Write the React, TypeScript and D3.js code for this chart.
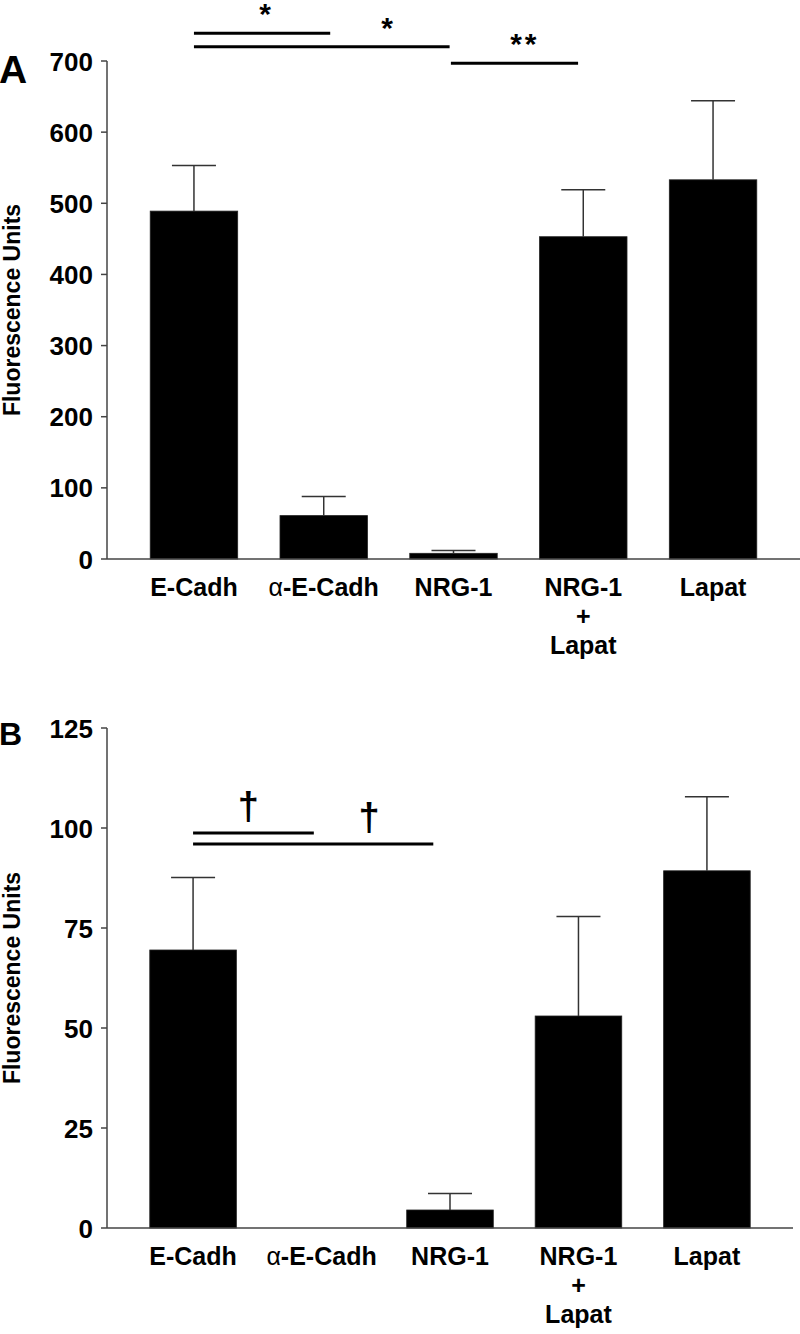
import React from "react";
import * as d3 from "d3";

// ---------- data ----------
const categories = ["E-Cadh", "α-E-Cadh", "NRG-1", "NRG-1|+|Lapat", "Lapat"];

const valuesA = [489, 61, 8, 453, 533];
const errorsA = [553, 88, 12, 519, 644];
const ticksA = [0, 100, 200, 300, 400, 500, 600, 700];

const valuesB = [69.5, 0, 4.5, 53, 89.3];
const errorsB = [87.6, 0, 8.6, 77.9, 107.8];
const ticksB = [0, 25, 50, 75, 100, 125];

// significance brackets: [from index, to index, y value, label, label index]
const sigA: [number, number, number, string, number][] = [
  [0, 1.05, 739, "*", 0.56],
  [0, 1.97, 720, "*", 1.5],
  [1.98, 2.96, 697, "**", 2.55],
];
const sigB: [number, number, number, string, number][] = [
  [0, 0.94, 98.75, "†", 0.43],
  [0, 1.87, 96, "†", 1.37],
];

const FONT = "'Liberation Sans', Arial, Helvetica, sans-serif";

type PanelProps = {
  letter: string;
  letterSize: number;
  letterBaseline: number;
  values: number[];
  errors: number[];
  ticks: number[];
  yTop: number;
  yZero: number;
  xRight: number;
  sig: [number, number, number, string, number][];
  sigIsDagger: boolean;
};

function Panel(p: PanelProps) {
  const xLeft = 107;
  const y = d3
    .scaleLinear()
    .domain([0, p.ticks[p.ticks.length - 1]])
    .range([p.yZero, p.yTop]);
  const x = d3
    .scaleBand<string>()
    .domain(categories)
    .range([xLeft, p.xRight])
    .paddingInner(0.326)
    .paddingOuter(0.333);
  const bw = x.bandwidth();
  const step = x.step();
  const c0 = (x(categories[0]) as number) + bw / 2;
  const idxX = (i: number) => c0 + i * step;

  return (
    <g>
      <text
        x={-1}
        y={p.letterBaseline}
        fontFamily={FONT}
        fontWeight="bold"
        fontSize={p.letterSize}
      >
        {p.letter}
      </text>
      {/* y axis label */}
      <text
        transform={`translate(20,${(p.yZero + p.yTop) / 2}) rotate(-90)`}
        textAnchor="middle"
        fontFamily={FONT}
        fontWeight="bold"
        fontSize={23}
      >
        Fluorescence Units
      </text>
      {/* bars */}
      {categories.map((c, i) =>
        p.values[i] > 0 ? (
          <rect
            key={c}
            x={x(c)}
            y={y(p.values[i])}
            width={bw}
            height={p.yZero - y(p.values[i])}
            fill="#000"
            stroke="#222"
            strokeWidth={0.8}
          />
        ) : null
      )}
      {/* error bars */}
      {categories.map((c, i) =>
        p.errors[i] > p.values[i] ? (
          <g key={"e" + c} stroke="#333" strokeWidth={1.5}>
            <line
              x1={(x(c) as number) + bw / 2}
              x2={(x(c) as number) + bw / 2}
              y1={y(p.values[i])}
              y2={y(p.errors[i])}
            />
            <line
              x1={(x(c) as number) + bw / 2 - 22}
              x2={(x(c) as number) + bw / 2 + 22}
              y1={y(p.errors[i])}
              y2={y(p.errors[i])}
            />
          </g>
        ) : null
      )}
      {/* axes */}
      <line x1={xLeft} x2={xLeft} y1={y(p.ticks[p.ticks.length - 1])} y2={p.yZero} stroke="#444" strokeWidth={1.5} />
      <line x1={xLeft} x2={p.xRight} y1={p.yZero} y2={p.yZero} stroke="#444" strokeWidth={1.5} />
      {p.ticks.map((t) => (
        <g key={"t" + t}>
          <line x1={xLeft - 6} x2={xLeft} y1={y(t)} y2={y(t)} stroke="#444" strokeWidth={1.5} />
          <text
            x={93}
            y={y(t)}
            dy="0.37em"
            textAnchor="end"
            fontFamily={FONT}
            fontWeight="bold"
            fontSize={26}
          >
            {t}
          </text>
        </g>
      ))}
      {/* category labels */}
      {categories.map((c) => {
        const lines = c.split("|");
        const cx = (x(c) as number) + bw / 2;
        return (
          <text
            key={"l" + c}
            x={cx}
            y={p.yZero + 37}
            textAnchor="middle"
            fontFamily={FONT}
            fontWeight="bold"
            fontSize={25}
          >
            {lines.map((ln, k) => (
              <tspan key={k} x={cx} dy={k === 0 ? 0 : 29}>
                {ln.startsWith("α") ? (
                  <>
                    <tspan fontWeight="normal">α</tspan>
                    {ln.slice(1)}
                  </>
                ) : (
                  ln
                )}
              </tspan>
            ))}
          </text>
        );
      })}
      {/* significance */}
      {p.sig.map(([a, b, v, lab, li], k) => {
        const x1 = idxX(a);
        const x2 = idxX(b);
        const yy = y(v);
        return (
          <g key={"s" + k}>
            <line x1={x1} x2={x2} y1={yy} y2={yy} stroke="#000" strokeWidth={3} />
            <text
              x={idxX(li)}
              y={p.sigIsDagger ? yy - 14 : yy - 9}
              textAnchor="middle"
              fontFamily={FONT}
              fontWeight="bold"
              fontSize={p.sigIsDagger ? 38 : 30}
              letterSpacing={p.sigIsDagger ? 0 : 3}
            >
              {lab}
            </text>
          </g>
        );
      })}
    </g>
  );
}

export default function App() {
  return (
    <svg
      width={800}
      height={1334}
      style={{ position: "absolute", left: 0, top: 0, background: "#fff" }}
    >
      <rect width={800} height={1334} fill="#fff" />
      <Panel
        letter="A"
        letterSize={39}
        letterBaseline={83}
        values={valuesA}
        errors={errorsA}
        ticks={ticksA}
        yTop={61}
        yZero={559}
        xRight={800}
        sig={sigA}
        sigIsDagger={false}
      />
      <Panel
        letter="B"
        letterSize={32}
        letterBaseline={745}
        values={valuesB}
        errors={errorsB}
        ticks={ticksB}
        yTop={728}
        yZero={1228}
        xRight={793}
        sig={sigB}
        sigIsDagger={true}
      />
    </svg>
  );
}
